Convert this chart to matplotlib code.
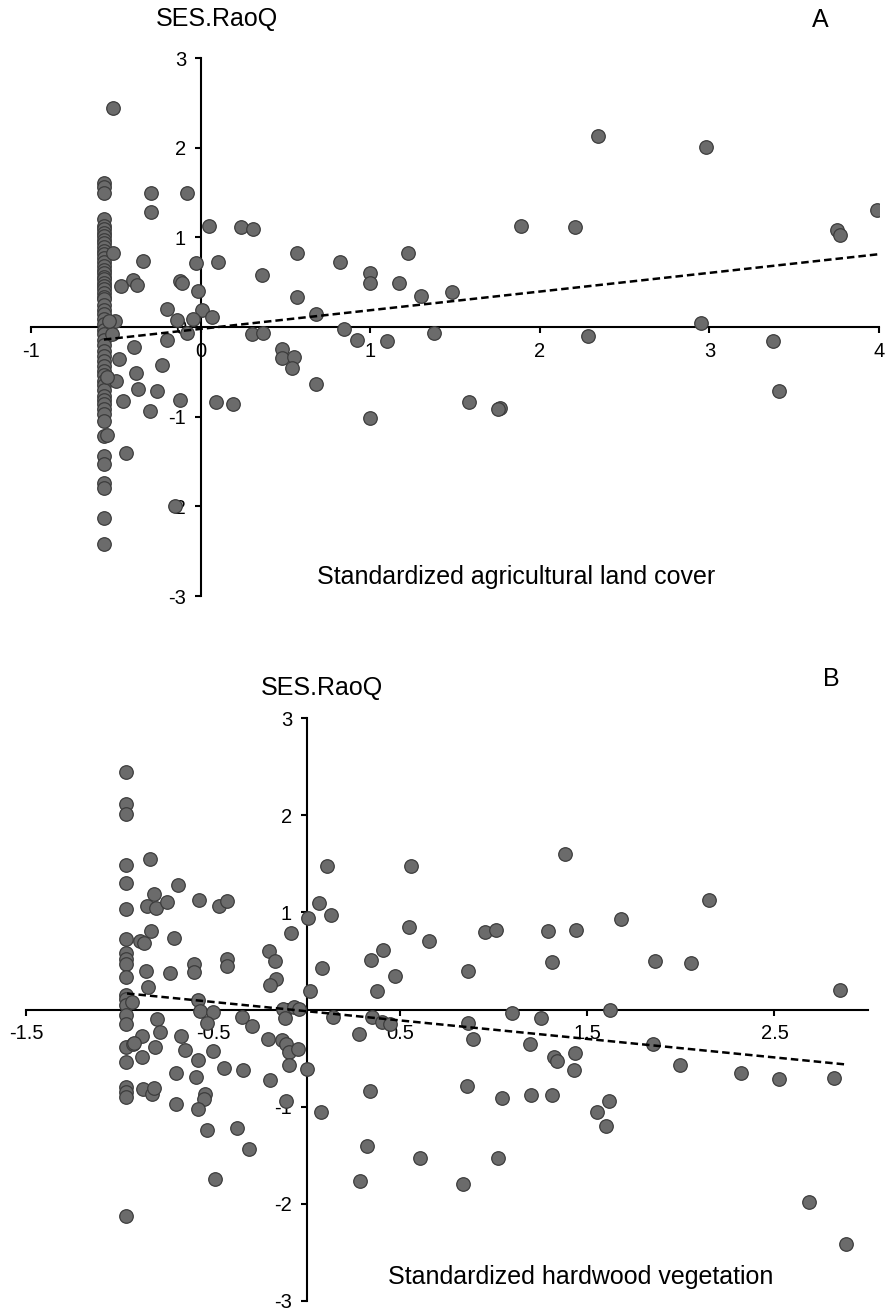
import numpy as np
import matplotlib
matplotlib.use("Agg")
import matplotlib.pyplot as plt

plt.rcParams['font.family'] = ['Liberation Sans', 'DejaVu Sans']
plt.rcParams['axes.unicode_minus'] = False

# ---- panel A : agricultural land cover ----
a_col_x = -0.57
a_col_y = [1.61, 1.56, 1.49, 1.20, 1.13, 1.09, 1.05, 1.01, 0.975, 0.94, 0.89, 0.845,
           0.81, 0.77, 0.72, 0.68, 0.64, 0.60, 0.56, 0.53, 0.49, 0.455, 0.42, 0.38,
           0.34, 0.31, 0.25, 0.19, 0.14, 0.09, 0.03, -0.03, -0.08, -0.14, -0.20,
           -0.27, -0.32, -0.38, -0.43, -0.49, -0.54, -0.60, -0.65, -0.70, -0.77,
           -0.81, -0.86, -0.92, -0.975, -1.05, -1.22, -1.44, -1.525, -1.74, -1.79,
           -2.13, -2.42]
a_x = [-0.515, -0.295, -0.29, -0.08, 0.05, 0.24, 0.31, -0.515, -0.34, -0.03, 0.10,
       0.57, 0.82, 1.22, 0.36, 1.0, 1.0, 1.17, -0.47, -0.40, -0.375, -0.124, -0.108,
       -0.018, 0.57, 1.30, 1.48, -0.20, 0.008, 0.68, -0.505, -0.137, -0.043, 0.065,
       0.845, 2.345, 2.98, 1.89, 2.21, 3.755, 3.77, 3.99, 2.95, -0.52, -0.08, -0.20,
       -0.39, -0.48, -0.23, -0.38, -0.50, -0.55, -0.37, -0.255, -0.46, -0.12, -0.30,
       0.09, 0.19, 0.305, 0.37, 0.48, 0.48, 0.55, 0.54, 0.68, 0.92, 1.10, 1.0, 1.375,
       -0.44, -0.55, -0.15, 2.285, 3.375, 3.41, 1.585, 1.765, 1.755, -0.54]
a_y = [2.44, 1.49, 1.28, 1.50, 1.13, 1.11, 1.09, 0.82, 0.74, 0.71, 0.73,
       0.83, 0.72, 0.82, 0.585, 0.60, 0.49, 0.49, 0.46, 0.52, 0.47, 0.51, 0.49,
       0.40, 0.34, 0.35, 0.385, 0.20, 0.19, 0.15, 0.065, 0.08, 0.09, 0.11,
       -0.02, 2.13, 2.01, 1.13, 1.12, 1.08, 1.03, 1.31, 0.05, -0.08, -0.07, -0.15,
       -0.22, -0.36, -0.42, -0.51, -0.60, -0.555, -0.69, -0.71, -0.82, -0.81, -0.94,
       -0.84, -0.86, -0.08, -0.07, -0.25, -0.35, -0.34, -0.455, -0.64, -0.14, -0.16, -1.01, -0.065,
       -1.40, -1.20, -2.0, -0.10, -0.16, -0.71, -0.84, -0.90, -0.92, 0.065]
a_line_x = [-0.57, 3.99]
a_line_y = [-0.14, 0.81]

# ---- panel B : hardwood vegetation ----
b_col_x = -0.963
b_col_y = [2.44, 2.12, 2.01, 1.49, 1.30, 1.03, 0.73, 0.585, 0.52, 0.465, 0.335, 0.147,
           0.11, 0.05, -0.06, -0.15, -0.39, -0.545, -0.80, -0.85, -0.90, -2.13]
b_x = [-0.936, -0.927, -0.836, -0.817, -0.852, -0.807, -0.747, -0.69, -0.578, -0.469,
       -0.426, -0.831, -0.891, -0.868, -0.711, -0.859, -0.731, -0.603, -0.601, -0.428,
       -0.428, -0.20, -0.171, -0.164, -0.196, -0.082, 0.009, -0.849, 0.018, 0.067,
       -0.58, -0.128, -0.07, -0.04, -0.116, -0.80, -0.786, -0.882, -0.925, -0.811,
       -0.879, -0.874, -0.829, -0.817, -0.669, -0.65, -0.699, -0.699, -0.571, -0.50,
       -0.535, -0.583, -0.592, -0.50, -0.544, -0.549, -0.58, -0.531, -0.489, -0.44,
       -0.344, -0.294, -0.342, -0.374, -0.307, -0.205, -0.13, -0.11, -0.093, -0.045,
       -0.093, -0.195, -0.112, 0.002, 0.076, 0.107, 0.556, 0.13, 0.549, 0.652, 0.955,
       1.012, 1.292, 1.438, 1.383, 1.31, 0.861, 0.08, 0.346, 0.41, 0.474, 0.374,
       0.142, 0.347, 0.404, 0.445, 0.28, 0.864, 0.888, 1.10, 1.25, 1.194, 1.324,
       1.34, 1.435, 1.43, 0.339, 0.856, 1.043, 1.20, 1.31, 1.554, 0.324, 0.606,
       1.021, 0.285, 0.834, 2.151, 1.681, 1.864, 2.053, 2.848, 1.62, 1.853, 1.996,
       2.321, 2.524, 2.816, 1.615, 1.60, 2.686, 2.882]
b_y = [0.08, -0.35, 1.55, 1.19, 1.07, 1.04, 1.11, 1.28, 1.13, 1.07,
       1.12, 0.81, 0.705, 0.68, 0.74, 0.40, 0.38, 0.465, 0.39, 0.52,
       0.45, 0.60, 0.50, 0.315, 0.25, 0.79, 0.94, 0.23, 0.19, 1.10,
       0.10, 0.01, 0.03, 0.01, -0.085, -0.10, -0.23, -0.27, -0.34, -0.385,
       -0.49, -0.82, -0.865, -0.81, -0.27, -0.42, -0.65, -0.97, -0.02, -0.03,
       -0.14, -0.52, -0.69, -0.425, -0.87, -0.92, -1.02, -1.24, -1.74, -0.60,
       -0.08, -0.17, -0.62, -1.22, -1.44, -0.305, -0.315, -0.36, -0.435, -0.41,
       -0.57, -0.73, -0.94, -0.615, -1.05, 1.48, 1.48, 0.97, 0.85, 0.705, 0.80,
       0.82, 0.81, 0.82, 1.60, 0.49, 0.40, 0.43, 0.51, 0.61, 0.345, 0.19,
       -0.08, -0.075, -0.125, -0.145, -0.255, -0.14, -0.305, -0.04, -0.09, -0.35, -0.49,
       -0.53, -0.45, -0.62, -0.84, -0.785, -0.915, -0.88, -0.875, -1.06, -1.40, -1.525,
       -1.525, -1.765, -1.795, 1.13, 0.935, 0.50, 0.475, 0.20, -0.01, -0.35, -0.57,
       -0.65, -0.72, -0.705, -0.94, -1.195, -1.98, -2.415]
b_line_x = [-0.96, 2.878]
b_line_y = [0.165, -0.565]

W, H = 889, 1311
fig = plt.figure(figsize=(W / 100, H / 100), dpi=100)


def px_axes(x0, x1, y0, y1):
    # pixel box (left, right, top, bottom) -> figure axes
    return fig.add_axes([x0 / W, 1 - y1 / H, (x1 - x0) / W, (y1 - y0) / H])


def style(ax, xlim, xticks, xlabels):
    ax.set_xlim(*xlim)
    ax.set_ylim(-3, 3)
    for s in ['top', 'right']:
        ax.spines[s].set_visible(False)
    ax.spines['left'].set_position(('data', 0))
    ax.spines['bottom'].set_position(('data', 0))
    for s in ['left', 'bottom']:
        ax.spines[s].set_linewidth(1.5)
    ax.set_xticks(xticks)
    ax.set_xticklabels(xlabels)
    ax.set_yticks([-3, -2, -1, 0, 1, 2, 3])
    ax.tick_params(direction='out', length=4.5, width=1.5, labelsize=14.5, pad=6)
    ax.patch.set_visible(False)


mk = dict(s=95, facecolor='#6b6b6b', edgecolor='#3c3c3c', linewidths=0.9, zorder=3)

# panel A
ax1 = px_axes(31, 879, 58, 596)
style(ax1, (-1, 4), [-1, 0, 1, 2, 3, 4], ['-1', '0', '1', '2', '3', '4'])
ax1.scatter([a_col_x] * len(a_col_y), a_col_y, **mk)
ax1.scatter(a_x, a_y, **mk)
ax1.plot(a_line_x, a_line_y, color='black', lw=1.8, ls=(0, (3, 1.6)), zorder=4)

# panel B
ax2 = px_axes(26, 868, 718, 1301)
style(ax2, (-1.5, 3), [-1.5, -0.5, 0.5, 1.5, 2.5], ['-1.5', '-0.5', '0.5', '1.5', '2.5'])
ax2.scatter([b_col_x] * len(b_col_y), b_col_y, **mk)
ax2.scatter(b_x, b_y, **mk)
ax2.plot(b_line_x, b_line_y, color='black', lw=1.8, ls=(0, (3, 1.6)), zorder=4)

# labels
fs = 18
fig.text(217 / W, 1 - 19 / H, 'SES.RaoQ', fontsize=fs, ha='center', va='center')
fig.text(820 / W, 1 - 20 / H, 'A', fontsize=fs, ha='center', va='center')
fig.text(516 / W, 1 - 577 / H, 'Standardized agricultural land cover', fontsize=fs,
         ha='center', va='center')
fig.text(322 / W, 1 - 688 / H, 'SES.RaoQ', fontsize=fs, ha='center', va='center')
fig.text(831 / W, 1 - 679 / H, 'B', fontsize=fs, ha='center', va='center')
fig.text(581 / W, 1 - 1277 / H, 'Standardized hardwood vegetation', fontsize=fs,
         ha='center', va='center')

fig.savefig('out.png', dpi=100)
